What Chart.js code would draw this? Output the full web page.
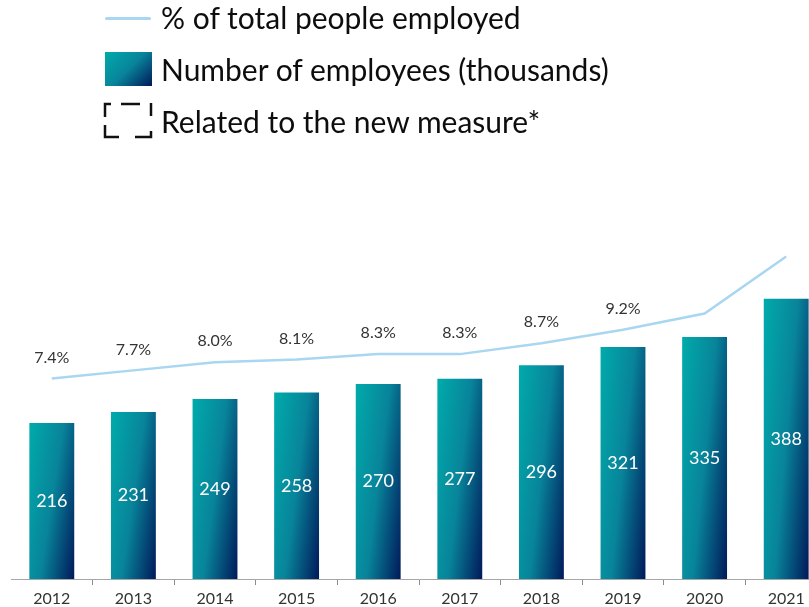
<!DOCTYPE html>
<html>
<head>
<meta charset="utf-8">
<script src="https://cdn.jsdelivr.net/npm/chart.js@4/dist/chart.umd.min.js"></script>
<style>
  html, body { margin: 0; padding: 0; background: #fff; overflow: hidden; width: 809px; height: 607px; }
  #wrap { position: absolute; left: 0; top: 0; width: 830px; height: 607px; }
  .lg { position: absolute; font-family: Lato, sans-serif; font-size: 30px; line-height: 30px; color: #0d0d0d; white-space: nowrap; }
  #lgLine { position: absolute; left: 105px; top: 17px; width: 46px; height: 3px; border-radius: 2px; background: #a9d6f1; }
  #lgBar { position: absolute; left: 105px; top: 52px; width: 47px; height: 34px;
           background: linear-gradient(135deg, #00abab 0%, #08849a 50%, #01195a 100%); }
  #lgBox { position: absolute; left: 100px; top: 98px; }
</style>
</head>
<body>
<div id="wrap"><canvas id="chart"></canvas></div>

<div id="lgLine"></div>
<div class="lg" style="left:161px; top:2px;">% of total people employed</div>
<div id="lgBar"></div>
<div class="lg" style="left:161px; top:54px;">Number of employees (thousands)</div>
<svg id="lgBox" width="60" height="45" viewBox="100 98 60 45">
  <g fill="none" stroke="#111" stroke-width="2.5">
    <path d="M105,117 V104 H111"/>
    <path d="M121,104 H140"/>
    <path d="M151,103 V116"/>
    <path d="M105,125 V137 H119"/>
    <path d="M135,137 H151 V131"/>
  </g>
</svg>
<div class="lg" style="left:161px; top:106px;">Related to the new measure*</div>

<script>
const years = ["2012", "2013", "2014", "2015", "2016", "2017", "2018", "2019", "2020", "2021"];
const employees = [216, 231, 249, 258, 270, 277, 296, 321, 335, 388];
const pctEmployed = [7.4, 7.7, 8.0, 8.1, 8.3, 8.3, 8.7, 9.2, 9.8, 11.9];
const pctLabels = ["7.4%", "7.7%", "8.0%", "8.1%", "8.3%", "8.3%", "8.7%", "9.2%", "", ""];

const BAR_FRACTION = 0.55;

// diagonal fill, mostly left→right, darker toward the bottom right
function barGradient(ctx) {
  const chart = ctx.chart;
  if (!chart.chartArea || ctx.type !== "data") return "#08849a";
  const xs = chart.scales.x, ys = chart.scales.y;
  const cx = xs.getPixelForValue(ctx.dataIndex);
  const w = xs.width / years.length * BAR_FRACTION;
  const top = ys.getPixelForValue(ctx.raw);
  const h = ys.getPixelForValue(0) - top;
  const a = 0.65, b = 0.35;
  const S = (a * a) / (w * w) + (b * b) / (h * h);
  const x0 = cx - w / 2;
  const g = chart.ctx.createLinearGradient(x0, top, x0 + (a / w) / S, top + (b / h) / S);
  g.addColorStop(0, "#00abab");
  g.addColorStop(0.5, "#08849a");
  g.addColorStop(1, "#01195a");
  return g;
}

const valueLabels = {
  id: "valueLabels",
  afterDatasetsDraw(chart) {
    const c = chart.ctx;
    c.save();
    c.textAlign = "center";
    c.textBaseline = "middle";
    c.fillStyle = "#ffffff";
    c.font = "18px Lato";
    chart.getDatasetMeta(0).data.forEach((bar, i) => {
      c.fillText(employees[i], bar.x, (bar.y + bar.base) / 2);
    });
    c.fillStyle = "#333333";
    c.font = "16px Lato";
    chart.getDatasetMeta(1).data.forEach((pt, i) => {
      if (pctLabels[i]) c.fillText(pctLabels[i], pt.x, pt.y - 21);
    });
    c.restore();
  }
};

new Chart(document.getElementById("chart"), {
  type: "bar",
  data: {
    labels: years,
    datasets: [{
      type: "bar",
      label: "Number of employees (thousands)",
      data: employees,
      yAxisID: "y",
      backgroundColor: barGradient,
      barPercentage: BAR_FRACTION,
      categoryPercentage: 1,
      order: 2
    }, {
      type: "line",
      label: "% of total people employed",
      data: pctEmployed,
      yAxisID: "y1",
      borderColor: "#a9d6f1",
      borderWidth: 2.5,
      pointRadius: 0,
      tension: 0,
      fill: false,
      order: 1
    }]
  },
  options: {
    responsive: true,
    maintainAspectRatio: false,
    animation: false,
    layout: { padding: { top: 145.5, left: 11, right: 3, bottom: 0 } },
    plugins: {
      legend: { display: false },
      tooltip: { enabled: false }
    },
    scales: {
      x: {
        offset: true,
        grid: {
          offset: true,
          drawOnChartArea: false,
          tickLength: 6,
          color: (c) => (c.index === 0 ? "rgba(0,0,0,0)" : "#8c8c8c")
        },
        border: { display: true, color: "#a6a6a6", width: 1 },
        ticks: { color: "#333333", font: { family: "Lato", size: 16 }, padding: 4 },
        afterFit: (s) => { s.height = 28; }
      },
      y: { display: false, min: 0, max: 600 },
      y1: { display: false, min: 0, max: 16 }
    }
  },
  plugins: [valueLabels]
});
</script>
</body>
</html>
